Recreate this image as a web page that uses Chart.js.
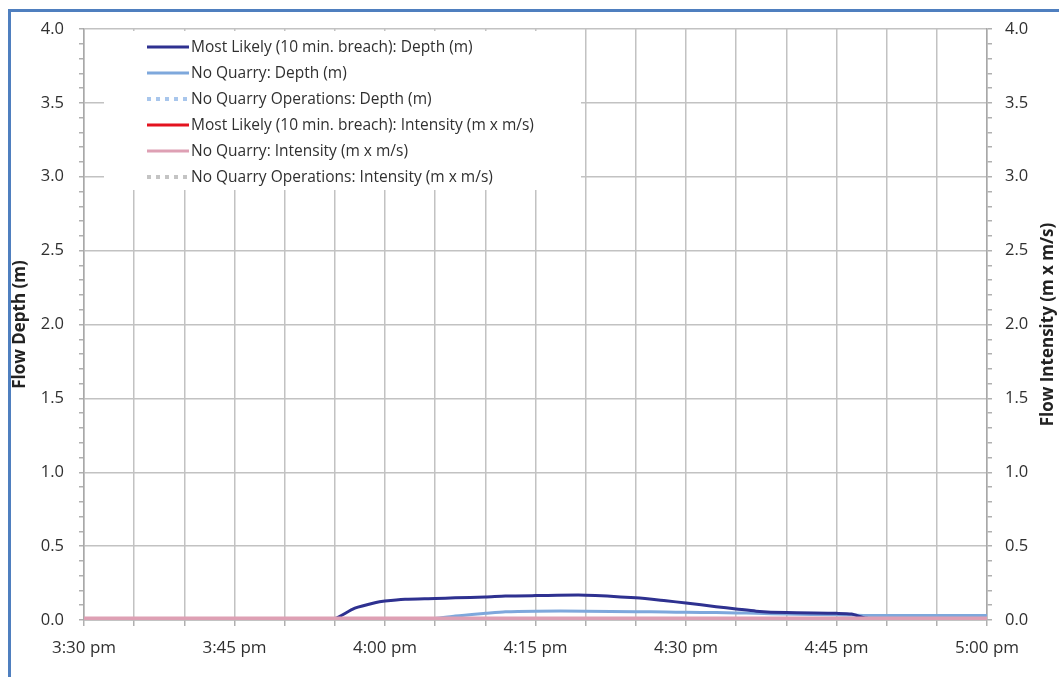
<!DOCTYPE html>
<html lang="en">
<head>
    <meta charset="UTF-8">
    <title>Flow Depth and Intensity</title>
    <style>
        body {
            margin: 0;
            background-color: #ffffff;
            overflow: hidden;
        }
        .frame {
            position: absolute;
            left: 8px;
            top: 9px;
            width: 1200px;
            height: 900px;
            border: 3px solid #4f7fbf;
        }
        canvas {
            position: absolute;
            left: 0;
            top: 0;
        }
    </style>
    <script src="https://cdn.jsdelivr.net/npm/chart.js"></script>
</head>
<body>
    <div class="frame"></div>
    <canvas id="flowChart" width="1059" height="677"></canvas>
    <script>
        // minutes after 3:30 pm
        const minutes = [0, 10, 20, 25, 25.5, 27, 29, 30, 32, 35, 37, 40, 42, 45, 50, 55, 58, 60, 63, 65, 67, 70, 75, 76.5, 78, 80, 90];

        const mostLikelyDepth = [0.01, 0.01, 0.01, 0.01, 0.025, 0.08, 0.117, 0.128, 0.14, 0.145, 0.15, 0.155, 0.162, 0.165, 0.168, 0.15, 0.13, 0.115, 0.09, 0.075, 0.06, 0.05, 0.045, 0.04, 0.012, 0.01, 0.01];
        const noQuarryDepth = [0.01, 0.01, 0.01, 0.01, 0.01, 0.01, 0.01, 0.01, 0.01, 0.01, 0.027, 0.045, 0.056, 0.06, 0.06, 0.056, 0.054, 0.052, 0.05, 0.048, 0.045, 0.04, 0.035, 0.033, 0.03, 0.03, 0.03];
        const noQuarryOpsDepth = [0.01, 0.01, 0.01, 0.01, 0.01, 0.01, 0.01, 0.01, 0.01, 0.01, 0.01, 0.01, 0.01, 0.01, 0.01, 0.01, 0.01, 0.01, 0.01, 0.01, 0.01, 0.01, 0.01, 0.01, 0.01, 0.01, 0.01];
        const mostLikelyIntensity = [0.01, 0.01, 0.01, 0.01, 0.01, 0.01, 0.01, 0.01, 0.01, 0.01, 0.01, 0.01, 0.01, 0.01, 0.01, 0.01, 0.01, 0.01, 0.01, 0.01, 0.01, 0.01, 0.01, 0.01, 0.01, 0.01, 0.01];
        const noQuarryIntensity = [0.012, 0.012, 0.012, 0.012, 0.012, 0.012, 0.012, 0.012, 0.012, 0.012, 0.012, 0.012, 0.012, 0.012, 0.012, 0.012, 0.012, 0.012, 0.012, 0.012, 0.012, 0.012, 0.012, 0.012, 0.012, 0.012, 0.012];
        const noQuarryOpsIntensity = [0.01, 0.01, 0.01, 0.01, 0.01, 0.01, 0.01, 0.01, 0.01, 0.01, 0.01, 0.01, 0.01, 0.01, 0.01, 0.01, 0.01, 0.01, 0.01, 0.01, 0.01, 0.01, 0.01, 0.01, 0.01, 0.01, 0.01];

        const timeLabels = ['3:30 pm', '3:45 pm', '4:00 pm', '4:15 pm', '4:30 pm', '4:45 pm', '5:00 pm'];

        const seriesNames = [
            'Most Likely (10 min. breach): Depth (m)',
            'No Quarry: Depth (m)',
            'No Quarry Operations: Depth (m)',
            'Most Likely (10 min. breach): Intensity (m x m/s)',
            'No Quarry: Intensity (m x m/s)',
            'No Quarry Operations: Intensity (m x m/s)'
        ];

        function points(values) {
            return values.map((v, i) => ({ x: minutes[i], y: v }));
        }

        function isMajor(v) {
            return Math.round(v * 10) % 5 === 0;
        }

        Chart.defaults.font.family = 'Open Sans';
        Chart.defaults.color = '#303030';

        // legend drawn inside the plot on a white box
        const boxLegend = {
            id: 'boxLegend',
            afterDatasetsDraw(chart) {
                const ctx = chart.ctx;
                ctx.save();
                ctx.fillStyle = '#ffffff';
                ctx.fillRect(104, 31, 477, 159);
                ctx.font = '15.5px "Open Sans"';
                ctx.textBaseline = 'middle';
                chart.data.datasets.forEach((ds, i) => {
                    const y = 47 + i * 26;
                    ctx.beginPath();
                    ctx.strokeStyle = ds.borderColor;
                    ctx.lineWidth = ds.borderDash ? 4 : 3;
                    ctx.setLineDash(ds.borderDash || []);
                    ctx.moveTo(147, y);
                    ctx.lineTo(189, y);
                    ctx.stroke();
                    ctx.setLineDash([]);
                    ctx.fillStyle = '#303030';
                    ctx.fillText(ds.label, 191, y + 1);
                });
                ctx.restore();
            },
            afterDraw(chart) {
                const ctx = chart.ctx;
                const area = chart.chartArea;
                ctx.save();
                ctx.translate(1048, (area.top + area.bottom) / 2);
                ctx.rotate(-Math.PI / 2);
                ctx.font = 'bold 17px "Open Sans"';
                ctx.fillStyle = '#222222';
                ctx.textAlign = 'center';
                ctx.textBaseline = 'middle';
                ctx.fillText('Flow Intensity (m x m/s)', 0, 0);
                ctx.restore();
            }
        };

        const yTicks = {
            stepSize: 0.1,
            autoSkip: false,
            font: { size: 16.5 },
            callback: v => isMajor(v) ? v.toFixed(1) : ''
        };

        new Chart(document.getElementById('flowChart'), {
            type: 'line',
            data: {
                datasets: [
                    { label: seriesNames[0], data: points(mostLikelyDepth), borderColor: '#2e3190', borderWidth: 3, order: 3 },
                    { label: seriesNames[1], data: points(noQuarryDepth), borderColor: '#7ea8dc', borderWidth: 3, order: 4 },
                    { label: seriesNames[2], data: points(noQuarryOpsDepth), borderColor: '#a8c6ec', borderWidth: 3, borderDash: [4, 5], order: 5 },
                    { label: seriesNames[3], data: points(mostLikelyIntensity), borderColor: '#e3131f', borderWidth: 2.5, order: 1 },
                    { label: seriesNames[4], data: points(noQuarryIntensity), borderColor: '#dea0b4', borderWidth: 3.5, order: 0 },
                    { label: seriesNames[5], data: points(noQuarryOpsIntensity), borderColor: '#c4c4c4', borderWidth: 3, borderDash: [4, 5], order: 2 }
                ]
            },
            options: {
                responsive: false,
                animation: false,
                elements: {
                    point: { radius: 0 },
                    line: { tension: 0.25 }
                },
                layout: { padding: { top: 29, left: 0, right: 0, bottom: 0 } },
                plugins: {
                    legend: { display: false },
                    tooltip: { enabled: false }
                },
                scales: {
                    x: {
                        type: 'linear',
                        min: 0,
                        max: 90,
                        ticks: {
                            stepSize: 5,
                            autoSkip: false,
                            maxRotation: 0,
                            padding: 12,
                            font: { size: 17 },
                            callback: v => v % 15 === 0 ? timeLabels[v / 15] : ''
                        },
                        grid: { color: '#c2c2c2', lineWidth: 1.5, tickLength: 6, tickColor: '#b0b0b0' },
                        border: { color: '#a8a8a8', width: 1.5 },
                        afterFit: s => { s.height = 57; }
                    },
                    y: {
                        position: 'left',
                        min: 0,
                        max: 4,
                        ticks: Object.assign({ padding: 15 }, yTicks),
                        grid: {
                            color: c => isMajor(c.tick.value) ? '#c2c2c2' : 'rgba(0,0,0,0)',
                            lineWidth: 1.5,
                            tickLength: 5,
                            tickColor: '#b0b0b0'
                        },
                        border: { color: '#a8a8a8', width: 1.5 },
                        title: {
                            display: true,
                            text: 'Flow Depth (m)',
                            color: '#222222',
                            font: { size: 17, weight: 'bold' },
                            padding: { top: 10, bottom: 0 }
                        },
                        afterFit: s => { s.width = 84; }
                    },
                    y2: {
                        position: 'right',
                        min: 0,
                        max: 4,
                        ticks: Object.assign({ padding: 13 }, yTicks),
                        grid: { drawOnChartArea: false, tickLength: 5, tickColor: '#b0b0b0', lineWidth: 1.5 },
                        border: { color: '#a8a8a8', width: 1.5 },
                        afterFit: s => { s.width = 72; }
                    }
                }
            },
            plugins: [boxLegend]
        });
    </script>
</body>
</html>
